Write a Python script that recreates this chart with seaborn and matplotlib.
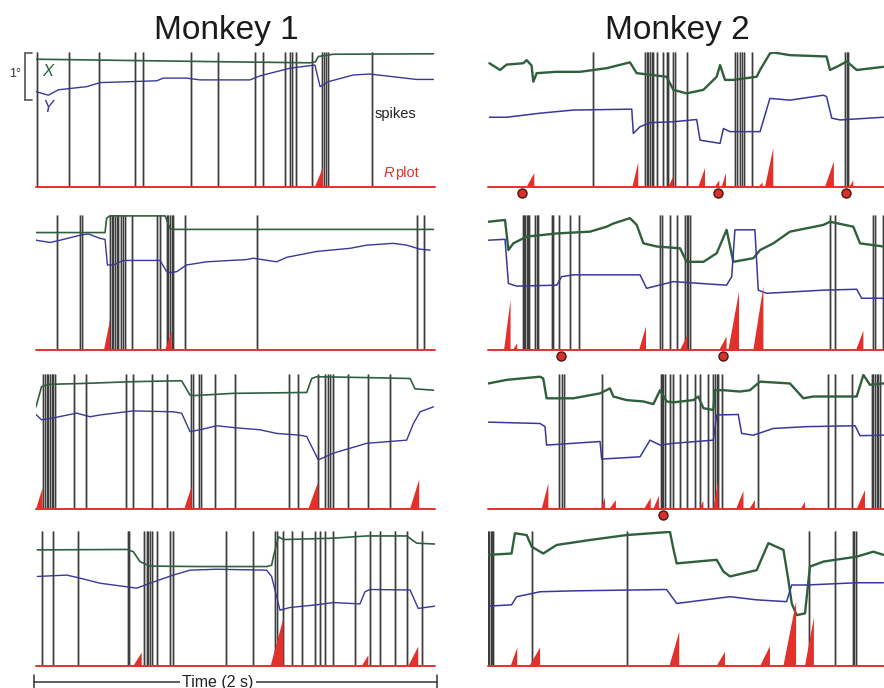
import matplotlib
matplotlib.use("Agg")
import matplotlib.pyplot as plt
from matplotlib.lines import Line2D
import pandas as pd
import seaborn as sns

# ---------------------------------------------------------------------------
# Eye position traces (time in s, position in deg), spike times (s),
# R-plot bursts (onset s, peak s, height) and reward/target markers (s)
# ---------------------------------------------------------------------------

# Monkey 1, trial 1
M1_T1_X = [(0.0, 2.84), (0.49, 2.81), (0.99, 2.78), (1.373, 2.76), (1.40, 2.78),
           (1.415, 2.90), (1.49, 2.95), (1.992, 2.96)]
M1_T1_Y = [(0.0, 2.12), (0.062, 2.04), (0.112, 2.16), (0.254, 2.23), (0.321, 2.32),
           (0.605, 2.36), (0.638, 2.42), (0.755, 2.42), (0.822, 2.38), (1.073, 2.38),
           (1.123, 2.47), (1.273, 2.64), (1.398, 2.71), (1.424, 2.23), (1.465, 2.34),
           (1.591, 2.49), (1.674, 2.51), (1.791, 2.45), (1.908, 2.39), (1.992, 2.39)]
M1_T1_SPIKES = [0.007, 0.167, 0.317, 0.496, 0.538, 0.777, 0.914, 1.098, 1.139, 1.248,
                1.273, 1.285, 1.303, 1.382, 1.432, 1.444, 1.454, 1.465, 1.683]
M1_T1_R = [(1.398, 1.439, 0.44)]
M1_T1_MARKS = []

# Monkey 1, trial 2
M1_T2_X = [(0.0, 2.61), (0.346, 2.61), (0.354, 2.93), (0.371, 2.98), (0.647, 2.98),
           (0.672, 2.70), (0.688, 2.68), (1.992, 2.68)]
M1_T2_Y = [(0.0, 2.44), (0.070, 2.39), (0.112, 2.43), (0.229, 2.56), (0.262, 2.58),
           (0.321, 2.48), (0.346, 2.46), (0.358, 1.89), (0.388, 1.89), (0.438, 1.99),
           (0.622, 1.99), (0.655, 1.74), (0.672, 1.72), (0.705, 1.74), (0.755, 1.89),
           (0.856, 1.96), (1.056, 2.01), (1.089, 2.04), (1.206, 1.96), (1.257, 2.06),
           (1.407, 2.19), (1.574, 2.26), (1.658, 2.33), (1.791, 2.37), (1.858, 2.33),
           (1.925, 2.24), (1.975, 2.22)]
M1_T2_SPIKES = [0.107, 0.221, 0.229, 0.371, 0.379, 0.388, 0.396, 0.404, 0.413, 0.424,
                0.438, 0.446, 0.483, 0.608, 0.622, 0.655, 0.663, 0.672, 0.680, 0.688,
                0.747, 1.109, 1.911, 1.945]
M1_T2_R = [(0.341, 0.371, 0.67), (0.647, 0.680, 0.41)]
M1_T2_MARKS = []

# Monkey 1, trial 3
M1_T3_X = [(0.0, 2.27), (0.028, 2.72), (0.062, 2.77), (0.237, 2.79), (0.488, 2.83),
           (0.730, 2.85), (0.772, 2.53), (0.789, 2.52), (0.989, 2.57), (1.357, 2.59),
           (1.382, 2.90), (1.407, 2.94), (1.658, 2.92), (1.875, 2.90), (1.900, 2.67),
           (1.992, 2.64)]
M1_T3_Y = [(0.0, 2.10), (0.028, 1.98), (0.070, 2.01), (0.204, 2.13), (0.271, 2.05),
           (0.321, 2.09), (0.488, 2.18), (0.688, 2.16), (0.730, 2.13), (0.772, 1.72),
           (0.822, 1.76), (0.906, 1.85), (0.989, 1.81), (1.123, 1.76), (1.206, 1.68),
           (1.323, 1.64), (1.357, 1.61), (1.415, 1.09), (1.490, 1.24), (1.658, 1.46),
           (1.858, 1.53), (1.892, 1.90), (1.925, 2.16), (1.992, 2.27)]
M1_T3_SPIKES = [0.033, 0.045, 0.053, 0.062, 0.070, 0.078, 0.087, 0.095, 0.190, 0.251,
                0.451, 0.488, 0.580, 0.655, 0.775, 0.785, 0.819, 0.827, 0.897, 0.997,
                1.270, 1.315, 1.415, 1.449, 1.465, 1.474, 1.490, 1.566, 1.666, 1.774]
M1_T3_R = [(0.0, 0.033, 0.47), (0.743, 0.780, 0.50), (1.365, 1.415, 0.61),
           (1.875, 1.921, 0.66)]
M1_T3_MARKS = []

# Monkey 1, trial 4
M1_T4_X = [(0.007, 2.58), (0.455, 2.59), (0.488, 2.54), (0.521, 2.32), (0.571, 2.22),
           (0.822, 2.21), (1.156, 2.21), (1.181, 2.24), (1.190, 2.43), (1.215, 2.87),
           (1.240, 2.81), (1.490, 2.84), (1.658, 2.89), (1.858, 2.89), (1.908, 2.73),
           (2.0, 2.71)]
M1_T4_Y = [(0.007, 1.99), (0.154, 2.02), (0.204, 1.97), (0.321, 1.84), (0.455, 1.76),
           (0.505, 1.73), (0.571, 1.84), (0.688, 2.02), (0.772, 2.13), (0.906, 2.15),
           (1.156, 2.13), (1.181, 1.99), (1.223, 1.24), (1.273, 1.30), (1.407, 1.36),
           (1.490, 1.41), (1.624, 1.38), (1.649, 1.65), (1.674, 1.70), (1.875, 1.69),
           (1.916, 1.28), (2.0, 1.33)]
M1_T4_SPIKES = [0.028, 0.087, 0.212, 0.459, 0.468, 0.541, 0.555, 0.563, 0.571, 0.580,
                0.605, 0.672, 0.688, 0.952, 1.089, 1.198, 1.206, 1.240, 1.281, 1.332,
                1.398, 1.424, 1.449, 1.490, 1.599, 1.674, 1.724, 1.800, 1.858, 1.933]
M1_T4_R = [(0.488, 0.530, 0.30), (1.176, 1.240, 1.06), (1.633, 1.666, 0.24),
           (1.866, 1.916, 0.43)]
M1_T4_MARKS = []

# Monkey 2, trial 1
M2_T1_X = [(0.007, 2.75), (0.061, 2.60), (0.094, 2.72), (0.178, 2.75), (0.195, 2.82),
           (0.220, 2.70), (0.229, 2.34), (0.246, 2.53), (0.347, 2.56), (0.465, 2.56),
           (0.599, 2.64), (0.717, 2.77), (0.751, 2.53), (0.902, 2.45), (0.936, 2.16),
           (1.003, 2.08), (1.088, 2.16), (1.155, 2.45), (1.172, 2.71), (1.197, 2.38),
           (1.239, 2.38), (1.357, 2.45), (1.374, 2.60), (1.424, 2.97), (1.441, 2.99),
           (1.525, 2.93), (1.710, 2.90), (1.727, 2.60), (1.761, 2.67), (1.812, 2.79),
           (1.862, 2.60), (1.997, 2.67)]
M2_T1_Y = [(0.007, 1.55), (0.094, 1.55), (0.263, 1.64), (0.431, 1.71), (0.726, 1.73),
           (0.734, 1.19), (0.768, 1.34), (0.818, 1.43), (0.936, 1.45), (1.054, 1.50),
           (1.071, 1.04), (1.172, 0.97), (1.189, 1.30), (1.222, 1.23), (1.374, 1.23),
           (1.424, 1.97), (1.525, 1.93), (1.694, 2.04), (1.710, 2.01), (1.736, 1.53),
           (1.778, 1.49), (1.997, 1.55)]
M2_T1_SPIKES = [0.529, 0.793, 0.801, 0.810, 0.818, 0.827, 0.835, 0.852, 0.885, 0.902,
                0.911, 0.936, 0.944, 1.003, 1.247, 1.256, 1.273, 1.281, 1.293, 1.332,
                1.803, 1.812, 1.820]
M2_T1_R = [(0.195, 0.234, 0.31), (0.729, 0.759, 0.55), (0.911, 0.936, 0.24),
           (1.062, 1.096, 0.42), (1.146, 1.168, 0.15), (1.180, 1.202, 0.31),
           (1.365, 1.387, 0.10), (1.399, 1.441, 0.87), (1.702, 1.747, 0.57),
           (1.825, 1.845, 0.15)]
M2_T1_MARKS = [0.170, 1.160, 1.808]

# Monkey 2, trial 2
M2_T2_X = [(0.002, 2.85), (0.086, 2.89), (0.103, 2.22), (0.128, 2.37), (0.195, 2.52),
           (0.347, 2.59), (0.515, 2.63), (0.599, 2.74), (0.633, 2.81), (0.717, 2.93),
           (0.751, 2.78), (0.785, 2.37), (0.852, 2.30), (0.970, 2.26), (1.003, 1.96),
           (1.088, 1.96), (1.155, 2.15), (1.205, 2.67), (1.239, 1.96), (1.340, 2.04),
           (1.374, 2.22), (1.441, 2.37), (1.525, 2.63), (1.694, 2.78), (1.727, 2.85),
           (1.845, 2.74), (1.879, 2.37), (1.997, 2.30)]
M2_T2_Y = [(0.002, 2.44), (0.086, 2.46), (0.103, 1.48), (0.145, 1.42), (0.347, 1.44),
           (0.372, 1.63), (0.431, 1.67), (0.768, 1.67), (0.801, 1.37), (0.936, 1.52),
           (1.205, 1.44), (1.231, 1.63), (1.247, 2.67), (1.348, 2.67), (1.365, 1.33),
           (1.407, 1.26), (1.694, 1.33), (1.862, 1.35), (1.887, 1.15), (1.997, 1.15)]
M2_T2_SPIKES = [0.175, 0.182, 0.189, 0.195, 0.202, 0.209, 0.237, 0.246, 0.254, 0.322,
                0.330, 0.360, 0.414, 0.461, 0.869, 0.877, 0.919, 0.953, 0.995, 1.003,
                1.012, 1.020, 1.727, 1.753, 1.946, 1.955, 1.997]
M2_T2_R = [(0.081, 0.114, 1.11), (0.125, 0.148, 0.15), (0.763, 0.798, 0.52),
           (0.970, 1.007, 0.33), (1.168, 1.205, 0.30), (1.214, 1.268, 1.30),
           (1.340, 1.391, 1.41), (1.859, 1.896, 0.43)]
M2_T2_MARKS = [0.367, 1.188]

# Monkey 2, trial 3
M2_T3_X = [(0.002, 2.79), (0.094, 2.87), (0.263, 2.94), (0.279, 2.90), (0.296, 2.46),
           (0.330, 2.46), (0.431, 2.46), (0.566, 2.57), (0.616, 2.68), (0.633, 2.50),
           (0.700, 2.42), (0.785, 2.39), (0.835, 2.33), (0.869, 2.64), (0.902, 2.39),
           (0.936, 2.37), (1.037, 2.42), (1.062, 2.50), (1.088, 2.24), (1.138, 2.20),
           (1.146, 2.64), (1.189, 2.64), (1.273, 2.61), (1.323, 2.64), (1.374, 2.83),
           (1.525, 2.79), (1.593, 2.46), (1.643, 2.50), (1.744, 2.50), (1.862, 2.50),
           (1.896, 2.98), (1.929, 2.76), (1.997, 2.79)]
M2_T3_Y = [(0.002, 1.93), (0.263, 1.90), (0.288, 1.83), (0.296, 1.42), (0.566, 1.50),
           (0.574, 1.11), (0.768, 1.16), (0.818, 1.53), (0.869, 1.42), (0.936, 1.46),
           (1.138, 1.53), (1.155, 2.09), (1.264, 2.10), (1.281, 1.68), (1.340, 1.64),
           (1.441, 1.79), (1.609, 1.83), (1.854, 1.85), (1.879, 1.63), (1.997, 1.64)]
M2_T3_SPIKES = [0.360, 0.372, 0.384, 0.574, 0.872, 0.879, 0.886, 0.892, 0.919, 0.933,
                0.970, 1.003, 1.045, 1.071, 1.113, 1.138, 1.146, 1.155, 1.163, 1.180,
                1.365, 1.719, 1.753, 1.837, 1.938, 1.946, 1.955, 1.963, 1.971, 1.980]
M2_T3_R = [(0.271, 0.305, 0.57), (0.569, 0.591, 0.25), (0.613, 0.646, 0.20),
           (0.788, 0.822, 0.25), (0.835, 0.864, 0.30), (1.067, 1.088, 0.18),
           (1.138, 1.163, 0.64), (1.253, 1.290, 0.40), (1.320, 1.348, 0.20),
           (1.579, 1.601, 0.16), (1.862, 1.904, 0.42)]
M2_T3_MARKS = [0.882]

# Monkey 2, trial 4
M2_T4_X = [(0.002, 2.47), (0.119, 2.50), (0.136, 2.95), (0.195, 2.91), (0.221, 2.65),
           (0.279, 2.50), (0.347, 2.69), (0.515, 2.80), (0.700, 2.91), (0.919, 2.98),
           (0.936, 2.61), (0.953, 2.28), (1.155, 2.36), (1.189, 2.10), (1.222, 1.99),
           (1.357, 2.13), (1.416, 2.73), (1.492, 2.58), (1.517, 1.91), (1.534, 1.39),
           (1.559, 1.13), (1.601, 1.17), (1.626, 2.21), (1.694, 2.32), (1.862, 2.43),
           (1.946, 2.54), (1.997, 2.47)]
M2_T4_Y = [(0.002, 1.33), (0.119, 1.36), (0.145, 1.54), (0.263, 1.65), (0.431, 1.67),
           (0.902, 1.70), (0.953, 1.39), (1.222, 1.54), (1.357, 1.47), (1.508, 1.43),
           (1.534, 1.80), (1.609, 1.80), (1.862, 1.85), (1.997, 1.85)]
M2_T4_SPIKES = [0.002, 0.007, 0.013, 0.019, 0.027, 0.221, 0.704, 1.621, 1.753, 1.842,
                1.850, 1.859]
M2_T4_R = [(0.114, 0.148, 0.41), (0.209, 0.263, 0.41), (0.916, 0.966, 0.76),
           (1.155, 1.197, 0.32), (1.374, 1.424, 0.44), (1.492, 1.556, 1.43),
           (1.601, 1.646, 1.08)]
M2_T4_MARKS = []

TITLES = ["Monkey 1", "Monkey 2"]
TIME_LABEL = "Time (2 s)"

# (column, row, X trace, Y trace, spikes, R bursts, markers)
PANELS = [
    (0, 0, M1_T1_X, M1_T1_Y, M1_T1_SPIKES, M1_T1_R, M1_T1_MARKS),
    (0, 1, M1_T2_X, M1_T2_Y, M1_T2_SPIKES, M1_T2_R, M1_T2_MARKS),
    (0, 2, M1_T3_X, M1_T3_Y, M1_T3_SPIKES, M1_T3_R, M1_T3_MARKS),
    (0, 3, M1_T4_X, M1_T4_Y, M1_T4_SPIKES, M1_T4_R, M1_T4_MARKS),
    (1, 0, M2_T1_X, M2_T1_Y, M2_T1_SPIKES, M2_T1_R, M2_T1_MARKS),
    (1, 1, M2_T2_X, M2_T2_Y, M2_T2_SPIKES, M2_T2_R, M2_T2_MARKS),
    (1, 2, M2_T3_X, M2_T3_Y, M2_T3_SPIKES, M2_T3_R, M2_T3_MARKS),
    (1, 3, M2_T4_X, M2_T4_Y, M2_T4_SPIKES, M2_T4_R, M2_T4_MARKS),
]

# ---------------------------------------------------------------------------
sns.set_theme(style="white")
plt.rcParams["font.family"] = ["Liberation Sans", "DejaVu Sans"]

GREEN = "#2f5f3c"
BLUE = "#38389a"
RED = "#e2312b"
W, H = 884, 688

fig = plt.figure(figsize=(W / 100, H / 100), dpi=100)
fig.patch.set_facecolor("white")

COL_X = [(36, 399), (488, 396)]          # left edge / width in px
ROW_BASE = [187, 350, 509, 666]          # baseline in px
PANEL_H = 135                            # 3 deg at 45 px/deg
YMAX = 3.0


def fig_xy(px, py):
    return px / W, 1 - py / H


for col, row, xs, ys, spikes, bursts, marks in PANELS:
    x0, w = COL_X[col]
    base = ROW_BASE[row]
    ax = fig.add_axes([x0 / W, (H - base) / H, w / W, PANEL_H / H])

    # spike raster: halftone-looking grey lines with darker cores
    ax.vlines(spikes, 0, YMAX, colors="#a6a6a6", lw=1.9, zorder=1)
    ax.vlines(spikes, 0, YMAX, colors="#3a3a3a", lw=0.7, zorder=1)

    # eye position traces
    dfx = pd.DataFrame(xs, columns=["t", "pos"])
    dfy = pd.DataFrame(ys, columns=["t", "pos"])
    sns.lineplot(data=dfx, x="t", y="pos", ax=ax, color=GREEN,
                 lw=1.2 if col == 0 else 1.7, sort=False, estimator=None, zorder=3)
    sns.lineplot(data=dfy, x="t", y="pos", ax=ax, color=BLUE,
                 lw=1.0 if col == 0 else 1.1, sort=False, estimator=None, zorder=3)
    ax.set_xlim(0, 2)
    ax.set_ylim(0, YMAX)
    ax.axis("off")

    # R plot baseline and bursts
    ax.axhline(0, color=RED, lw=1.4, clip_on=False, zorder=4)
    for onset, peak, h in bursts:
        ax.fill([onset, peak, peak], [0, h, 0], color=RED, lw=0, zorder=4)

    # event markers just below the baseline
    if marks:
        ax.plot(marks, [-0.13] * len(marks), "o", ms=6.5, mfc="#d8302a",
                mec="#4a1414", mew=1.0, clip_on=False, zorder=6)

# column titles
for i, title in enumerate(TITLES):
    cx = COL_X[i][0] + COL_X[i][1] / 2 - 9
    fig.text(*fig_xy(cx, 39), title, ha="center", va="baseline",
             fontsize=24, color="#1a1a1a")

# scale bar (1 deg) and trace labels
sb = dict(color="#555555", lw=1.2, transform=fig.transFigure)
for (ax0, ay0), (ax1, ay1) in [((25, 53), (25, 100)), ((25, 53), (32, 53)),
                               ((25, 100), (32, 100))]:
    p0, p1 = fig_xy(ax0, ay0), fig_xy(ax1, ay1)
    fig.add_artist(Line2D([p0[0], p1[0]], [p0[1], p1[1]], **sb))
fig.text(*fig_xy(15, 74), "1°", ha="center", va="center", fontsize=9, color="#333333")
fig.text(*fig_xy(48, 72), "X", ha="center", va="center", fontsize=12,
         style="italic", color=GREEN)
fig.text(*fig_xy(48, 107), "Y", ha="center", va="center", fontsize=12,
         style="italic", color=BLUE)
fig.text(*fig_xy(375, 114), "spikes", ha="left", va="center", fontsize=10.5,
         color="#222222")
fig.text(*fig_xy(384, 173), "R", ha="left", va="center", fontsize=10.5,
         style="italic", color=RED)
fig.text(*fig_xy(395, 173), "plot", ha="left", va="center", fontsize=10.5, color=RED)

# time scale bar under the bottom-left panel
tb = dict(color="#333333", lw=1.1, transform=fig.transFigure)
for (ax0, ay0), (ax1, ay1) in [((34, 682), (437, 682)), ((34, 675), (34, 689)),
                               ((437, 675), (437, 689))]:
    p0, p1 = fig_xy(ax0, ay0), fig_xy(ax1, ay1)
    fig.add_artist(Line2D([p0[0], p1[0]], [p0[1], p1[1]], **tb))
fig.text(*fig_xy(218, 682), TIME_LABEL, ha="center", va="center", fontsize=11.5,
         color="#222222",
         bbox=dict(facecolor="white", edgecolor="none", pad=1.5))

fig.savefig("out.png", dpi=100, facecolor="white")
